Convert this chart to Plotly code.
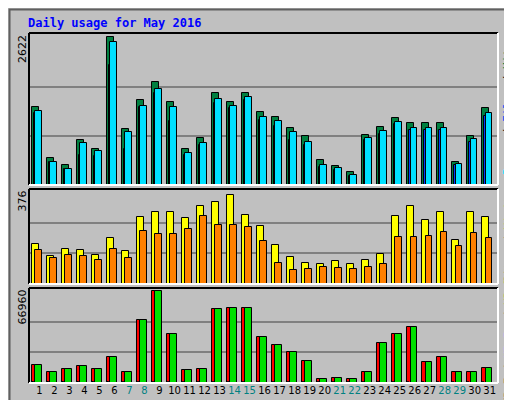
import plotly.graph_objects as go

days = list(range(1, 32))
weekend = [7, 8, 14, 15, 21, 22, 28, 29]

hits = [1390, 475, 352, 792, 634, 2622, 1003, 1514, 1830, 1478, 634, 827, 1637, 1478, 1637, 1302,
        1214, 1021, 862, 440, 334, 229, 880, 1038, 1197, 1109, 1109, 1109, 405, 862, 1373]
files = [1320, 405, 282, 739, 598, 2534, 933, 1408, 1707, 1390, 563, 739, 1531, 1408, 1566, 1214,
         1144, 933, 757, 352, 299, 176, 827, 968, 1126, 1021, 1021, 1021, 370, 810, 1285]
pages = [1285, 405, 282, 528, 510, 2130, 634, 1390, 1637, 1144, 528, 704, 1461, 1373, 1514, 1162,
         1056, 792, 704, 317, 264, 158, 792, 915, 1091, 986, 986, 986, 352, 757, 1232]
visits = [162, 115, 143, 139, 119, 186, 135, 273, 293, 293, 269, 317, 333, 364, 281, 238,
          158, 111, 87, 83, 95, 83, 99, 123, 277, 317, 261, 293, 178, 293, 273]
sites = [139, 107, 119, 115, 99, 143, 107, 218, 202, 202, 226, 277, 242, 242, 234, 174,
         87, 59, 63, 71, 67, 63, 71, 83, 190, 190, 194, 214, 154, 206, 186]
kb_out = [13250, 8100, 10300, 12500, 10300, 19100, 8100, 45600, 66960, 35300, 9600, 10300, 53700, 54400, 54400,
          33100, 27900, 22800, 16200, 2900, 3700, 2900, 8100, 29400, 35300, 40500, 15400, 19100, 8100, 8100, 11000]
kb_f = [13250, 8100, 10300, 12500, 10300, 19100, 8100, 45600, 66960, 35300, 9600, 10300, 53700, 54400, 54400,
        33100, 27900, 22800, 16200, 2900, 3700, 2900, 8100, 29400, 35300, 40500, 15400, 19100, 8100, 8100, 11000]
kb_in = [400] * 31

fig = go.Figure()
line = dict(color="black", width=1)

def bar(y, color, off, w, ax):
    fig.add_trace(go.Bar(x=days, y=y, marker=dict(color=color, line=line), offset=off, width=w,
                         xaxis="x" + ax, yaxis="y" + ax, showlegend=False, hoverinfo="y"))

bar(hits, "#008040", -0.5, 0.45, "")
bar(pages, "#0040ff", -0.38, 0.15, "")
bar(files, "#00e0ff", -0.28, 0.45, "")
bar(visits, "#ffff00", -0.5, 0.45, "2")
bar(sites, "#ff8000", -0.28, 0.45, "2")
bar(kb_f, "#ff0000", -0.5, 0.45, "3")
bar(kb_in, "#0080ff", -0.47, 0.12, "3")
bar(kb_out, "#00e000", -0.28, 0.45, "3")

xr = [0.3, 31.55]
dom = [0.041, 0.957]
ticktext = ["<span style='color:%s'>%d</span>" % ("#008080" if d in weekend else "black", d) for d in days]
common = dict(range=xr, domain=dom, showgrid=False, zeroline=False, fixedrange=True)
fig.update_layout(
    width=512, height=400, margin=dict(l=0, r=0, t=0, b=0),
    paper_bgcolor="#c0c0c0", plot_bgcolor="#c0c0c0", barmode="overlay", bargap=0,
    font=dict(family="DejaVu Sans", size=11, color="black"),
    xaxis=dict(anchor="y", showticklabels=False, **common),
    xaxis2=dict(anchor="y2", showticklabels=False, **common),
    xaxis3=dict(anchor="y3", tickvals=days, ticktext=ticktext, ticks="", tickangle=0,
                tickfont=dict(size=10), **common),
)
for ax, mx, d in [("yaxis", 2622, [0.5575, 0.9375]), ("yaxis2", 376, [0.31, 0.5475]), ("yaxis3", 66960, [0.0625, 0.30])]:
    fig.layout[ax] = dict(domain=d, range=[0, mx * 1.03], tickvals=[mx / 3, 2 * mx / 3], showticklabels=False,
                          gridcolor="#808080", gridwidth=1.5, zeroline=False, fixedrange=True,
                          anchor=ax.replace("yaxis", "x"))

shapes = [dict(type="rect", xref="paper", yref="paper", x0=0.003, y0=0.004, x1=0.997, y1=0.996,
               line=dict(color="#606060", width=2))]
for d in [[0.5575, 0.9375], [0.31, 0.5475], [0.0625, 0.30]]:
    shapes.append(dict(type="line", xref="paper", yref="paper", x0=dom[0], x1=dom[0], y0=d[0], y1=d[1], line=dict(color="black", width=2)))
    shapes.append(dict(type="line", xref="paper", yref="paper", x0=dom[0], x1=dom[1], y0=d[1], y1=d[1], line=dict(color="black", width=2)))
    shapes.append(dict(type="line", xref="paper", yref="paper", x0=dom[1], x1=dom[1], y0=d[0], y1=d[1], line=dict(color="white", width=2)))
    shapes.append(dict(type="line", xref="paper", yref="paper", x0=dom[0], x1=dom[1], y0=d[0], y1=d[0], line=dict(color="white", width=2)))
fig.update_layout(shapes=shapes)

mono = "DejaVu Sans Mono"
ann = [
    dict(x=18 / 512, y=1 - 15 / 400, text="<b>Daily usage for May 2016</b>", xanchor="left", yanchor="middle",
         font=dict(family=mono, size=12, color="#0000ff")),
    dict(x=14 / 512, y=0.9375, text="2622", textangle=-90, yanchor="top"),
    dict(x=14 / 512, y=0.5475, text="376", textangle=-90, yanchor="top"),
    dict(x=14 / 512, y=0.30, text="66960", textangle=-90, yanchor="top"),
    dict(x=500 / 512, y=0.7475, yanchor="middle", textangle=-90, font=dict(family=mono, size=11),
         text="<span style='color:#00e0ff'>Pages</span> / <span style='color:#0040ff'>Files</span> / <span style='color:#008040'>Hits</span>"),
    dict(x=500 / 512, y=0.4288, yanchor="middle", textangle=-90, font=dict(family=mono, size=11),
         text="<span style='color:#ff8000'>Sites</span> / <span style='color:#ffff00'>Visits</span>"),
    dict(x=500 / 512, y=0.1813, yanchor="middle", textangle=-90, font=dict(family=mono, size=11),
         text="<span style='color:#ff0000'>KB F</span> / <span style='color:#0080ff'>KB In</span> / <span style='color:#00e000'>KB Out</span>"),
]
for a in ann:
    a.update(xref="paper", yref="paper", showarrow=False)
    a.setdefault("xanchor", "center")
fig.update_layout(annotations=ann)

fig.write_html("out.html")
